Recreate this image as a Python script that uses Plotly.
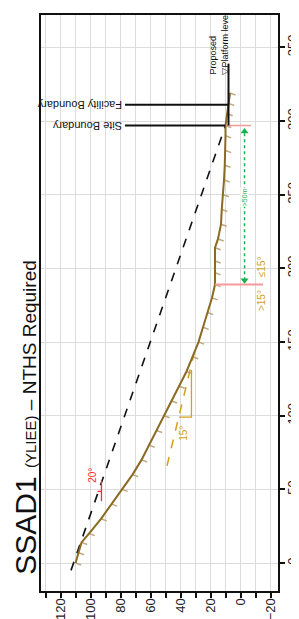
import plotly.graph_objects as go

# ---------------- data (distance along section, elevation) ----------------
ground_dist = [0, 7, 14, 20, 30, 40, 50, 60, 70, 80, 90, 100, 110, 120, 130, 140,
               150, 160, 170, 180, 189, 197, 205, 214, 220, 230, 240, 250, 260, 270,
               280, 290, 297, 305, 312, 319]
ground_elev = [110, 108, 106, 101, 93, 86, 79, 72, 66, 61, 56, 51, 46, 41, 36, 32,
               28, 25, 22, 19, 17, 17, 17, 17, 15, 13, 12.5, 11.5, 11, 10.5,
               10, 10, 10, 9, 8, 7]

line20_dist = [-5, 297]
line20_elev = [113, 10]

line15_dist = [66, 142]
line15_elev = [49, 31]

site_boundary_dist = 297
site_boundary_elev = [77, 10]
facility_boundary_dist = 311
facility_boundary_elev = [77, 8]

platform_elev = 8
platform_dist = [297, 339]

split_dist = 189            # >15 / <=15 split
split_elev = [17, -15]
site_red_elev = [10, -7]

arrow_elev = -2.7
arrow_dist = [192, 293]

x_ticks_label = [120, 100, 80, 60, 40, 20, 0, -20]

GROUND = "#8B6A23"
HATCH = "#bfa982"
GOLD = "#d1a21a"
RED = "#ff2b2b"
PINK = "#f59a9a"
GREEN = "#1fae52"
FONT = "Liberation Sans, Arial, sans-serif"

fig = go.Figure()

# hatch marks on downslope side of ground line
hx, hy = [], []
for d, e in zip(ground_dist, ground_elev):
    hx += [e, e - 3.8, None]
    hy += [d, d - 1.4, None]
fig.add_trace(go.Scatter(x=hx, y=hy, mode="lines",
                         line=dict(color=HATCH, width=1.5), hoverinfo="skip"))

# 15 degree reference (gold dashed + angle mark)
fig.add_trace(go.Scatter(x=line15_elev, y=line15_dist, mode="lines",
                         line=dict(color=GOLD, width=1.5, dash="dash")))
fig.add_trace(go.Scatter(x=[41, 32.7, 32.7], y=[99, 99, 131], mode="lines",
                         line=dict(color=GOLD, width=1.3)))

# 20 degree dashed line
fig.add_trace(go.Scatter(x=line20_elev, y=line20_dist, mode="lines",
                         line=dict(color="#111", width=1.6, dash="dash")))
fig.add_trace(go.Scatter(x=[95.3, 92.7, None, 92.7, 92.7],
                         y=[48.6, 48.6, None, 42, 56], mode="lines",
                         line=dict(color=RED, width=1.3)))

# ground profile
fig.add_trace(go.Scatter(x=ground_elev, y=ground_dist, mode="lines",
                         line=dict(color=GROUND, width=2)))

# red split lines
fig.add_trace(go.Scatter(x=split_elev, y=[split_dist, split_dist], mode="lines",
                         line=dict(color=PINK, width=2)))
fig.add_trace(go.Scatter(x=site_red_elev, y=[site_boundary_dist] * 2, mode="lines",
                         line=dict(color=PINK, width=1.5)))

# boundaries and platform
fig.add_trace(go.Scatter(x=site_boundary_elev, y=[site_boundary_dist] * 2, mode="lines",
                         line=dict(color="#111", width=2)))
fig.add_trace(go.Scatter(x=facility_boundary_elev, y=[facility_boundary_dist] * 2,
                         mode="lines", line=dict(color="#111", width=2)))
fig.add_trace(go.Scatter(x=[platform_elev] * 2, y=platform_dist, mode="lines",
                         line=dict(color="#111", width=2)))

# green >50m arrow
fig.add_trace(go.Scatter(x=[arrow_elev] * 2, y=arrow_dist, mode="lines",
                         line=dict(color=GREEN, width=1.5, dash="dot")))
fig.add_trace(go.Scatter(x=[arrow_elev, arrow_elev], y=arrow_dist, mode="markers",
                         marker=dict(symbol=["triangle-down", "triangle-up"], size=7,
                                     color=GREEN)))

ann = []
ann.append(dict(x=-0.063, y=0.301, xref="paper", yref="paper", showarrow=False,
                textangle=-90, xanchor="center", yanchor="middle",
                text='SSAD1 <span style="font-size:15px">(YLIEE)</span>'
                     '<span style="font-size:19px"> – NTHS Required</span>',
                font=dict(size=30, color="#111", family=FONT)))
ann.append(dict(x=site_boundary_elev[0], y=site_boundary_dist, showarrow=False,
                textangle=180, xanchor="right", yanchor="middle", xshift=-1,
                text="Site Boundary", font=dict(size=11, color="#111", family=FONT)))
ann.append(dict(x=facility_boundary_elev[0], y=facility_boundary_dist, showarrow=False,
                textangle=180, xanchor="right", yanchor="middle", xshift=-1,
                text="Facility Boundary", font=dict(size=11, color="#111", family=FONT)))
ann.append(dict(x=14.5, y=330, showarrow=False, textangle=-90, align="left",
                xanchor="center", yanchor="bottom",
                text="Proposed<br>▽Platform level",
                font=dict(size=9, color="#111", family=FONT)))
ann.append(dict(x=98.7, y=59.5, showarrow=False, textangle=-90,
                text="20°", font=dict(size=10, color=RED, family=FONT)))
ann.append(dict(x=38, y=88, showarrow=False, textangle=-90,
                text="15°", font=dict(size=10, color=GOLD, family=FONT)))
ann.append(dict(x=-14.5, y=178, showarrow=False, textangle=-90,
                text="&gt;15°", font=dict(size=10, color=GOLD, family=FONT)))
ann.append(dict(x=-14.5, y=201, showarrow=False, textangle=-90,
                text="≤15°", font=dict(size=10, color=GOLD, family=FONT)))
ann.append(dict(x=arrow_elev, y=248, showarrow=False, textangle=-90,
                text="&gt;50m", bgcolor="white", borderpad=0,
                font=dict(size=7, color=GREEN, family=FONT)))

fig.update_layout(
    width=299, height=619,
    margin=dict(l=33, r=29, t=5, b=36),
    paper_bgcolor="white", plot_bgcolor="white",
    showlegend=False,
    annotations=ann,
    font=dict(family=FONT),
    xaxis=dict(range=[133, -25], tickvals=x_ticks_label, ticks="outside", ticklen=5,
               tickwidth=2, tickcolor="#111", tickangle=-90, ticklabelstandoff=-5,
               tickfont=dict(size=13, color="#222"),
               showline=True, linecolor="#111", linewidth=2, mirror=True,
               showgrid=True, gridcolor="#dcdcdc", gridwidth=1, zeroline=False,
               minor=dict(dtick=10, tick0=0, ticks="outside", ticklen=5, tickwidth=2,
                          tickcolor="#111", showgrid=True, gridcolor="#dcdcdc")),
    yaxis=dict(range=[-19, 372], dtick=50, side="right", ticks="outside", ticklen=5,
               tickwidth=2, tickcolor="#111", tickangle=-90, ticklabelstandoff=-4,
               tickfont=dict(size=13, color="#222"),
               showline=True, linecolor="#111", linewidth=2, mirror=True,
               showgrid=True, gridcolor="#dcdcdc", gridwidth=1, zeroline=False),
)

fig.write_html("out.html")
